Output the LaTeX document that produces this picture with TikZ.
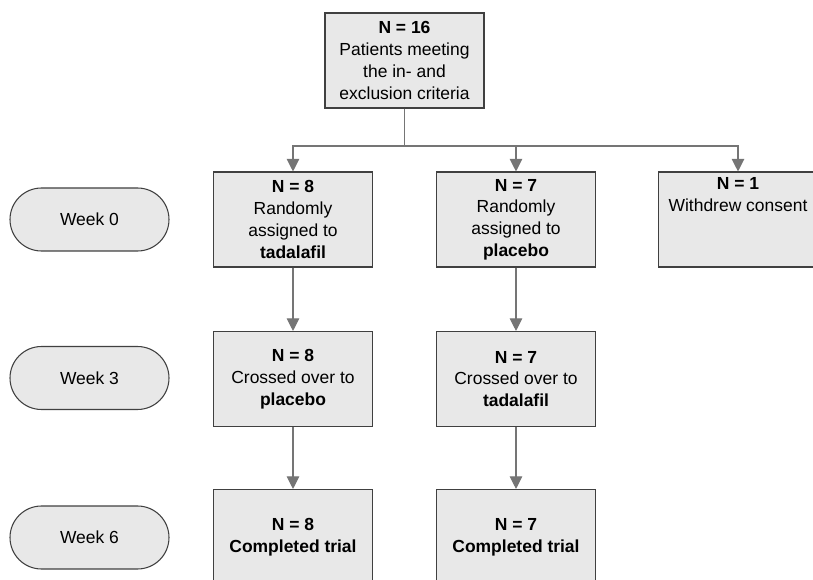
\documentclass[tikz,border=0pt]{standalone}
\usepackage{fontspec}
\setmainfont{Liberation Sans}
\usepackage{tikz}
\usetikzlibrary{arrows.meta}
\usetikzlibrary{shapes.misc}
\definecolor{relleno}{HTML}{E8E8E8}
\definecolor{borde}{HTML}{404040}
\definecolor{gris}{HTML}{757575}

\begin{document}
\begin{tikzpicture}[x=0.75pt,y=-0.75pt,
  caja/.style={draw=borde, fill=relleno, line width=0.8pt, minimum width=119.25pt,
    minimum height=71.25pt, inner sep=0pt, align=center,
    font=\fontsize{13.1}{16.3}\selectfont},
  semana/.style={draw=borde, fill=relleno, rounded rectangle, line width=0.8pt,
    minimum width=119.25pt, minimum height=47.25pt, inner sep=0pt,
    font=\fontsize{13.1}{16.3}\selectfont},
  flecha/.style={draw=gris, line width=0.8pt, -{Triangle[length=9.5pt,width=9.5pt]}}]
  % Marco
  \useasboundingbox (0,0) rectangle (813,580);
  \clip (0,0) rectangle (813,580);

  % Semanas
  \node[semana] (sem0) at (89.5,219.5) {Week 0};
  \node[semana] (sem3) at (89.5,378)   {Week 3};
  \node[semana] (sem6) at (89.5,537.5) {Week 6};

  % Inclusion
  \node[caja] (total) at (404.5,60.5)
    {\textbf{N = 16}\\Patients meeting\\the in- and\\exclusion criteria};

  % Semana 0
  \node[caja] (tad0) at (293,219.5)
    {\textbf{N = 8}\\Randomly\\assigned to\\\textbf{tadalafil}};
  \node[caja] (pla0) at (516,219.5)
    {\textbf{N = 7}\\Randomly\\assigned to\\\textbf{placebo}};
  \node[caja] (retiro) at (738,219.5)
    {\textbf{N = 1}\\Withdrew consent\\\strut\\\strut};

  % Semana 3
  \node[caja] (pla3) at (293,379)
    {\textbf{N = 8}\\Crossed over to\\\textbf{placebo}};
  \node[caja] (tad3) at (516,379)
    {\textbf{N = 7}\\Crossed over to\\\textbf{tadalafil}};

  % Semana 6
  \node[caja] (fin8) at (293,537)
    {\textbf{N = 8}\\\textbf{Completed trial}};
  \node[caja] (fin7) at (516,537)
    {\textbf{N = 7}\\\textbf{Completed trial}};

  % Flechas
  \coordinate (reparto) at (404.5,146);
  \draw[gris, line width=0.8pt] (total.south) -- (reparto);
  \draw[flecha] (reparto) -| (tad0.north);
  \draw[flecha] (reparto) -| (pla0.north);
  \draw[flecha] (reparto) -| (retiro.north);
  \draw[flecha] (tad0) -- (pla3);
  \draw[flecha] (pla0) -- (tad3);
  \draw[flecha] (pla3) -- (fin8);
  \draw[flecha] (tad3) -- (fin7);

\end{tikzpicture}
\end{document}
